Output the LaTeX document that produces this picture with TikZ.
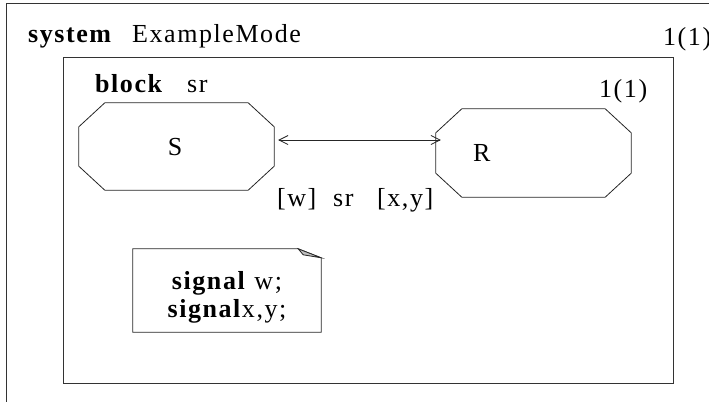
\documentclass[tikz,border=0pt]{standalone}
\usepackage{fontspec}
\setmainfont{Liberation Serif}[LetterSpace=6]
\usetikzlibrary{arrows.meta,calc}

% octagonal outline around a rectangular node: #1 name, #2 x chamfer, #3 y chamfer
\newcommand\chamferoutline[3]{%
  \draw[edge] ([xshift=#2]#1.north west) -- ([xshift=-#2]#1.north east)
    -- ([yshift=-#3]#1.north east) -- ([yshift=#3]#1.south east)
    -- ([xshift=-#2]#1.south east) -- ([xshift=#2]#1.south west)
    -- ([yshift=#3]#1.south west) -- ([yshift=-#3]#1.north west) -- cycle;}

\begin{document}
\begin{tikzpicture}[x=1pt,y=-1pt,
  frame/.style={draw=black!80,line width=0.9pt},
  edge/.style={draw=black!85,line width=0.8pt},
  txt/.style={inner sep=0pt,anchor=base west,font=\fontsize{26}{30}\selectfont},
  ctxt/.style={txt,anchor=base},
  agentbox/.style={inner sep=0pt,minimum width=195pt,font=\fontsize{26}{30}\selectfont},
  sig/.style={edge,{Straight Barb[length=9pt,width=9pt]}-{Straight Barb[length=9pt,width=9pt]}}
]
\useasboundingbox (0,0) rectangle (709,402);

% system frame (open at right and bottom)
\draw[frame] (709,3) -- (6,3) -- (6,402);
\node[txt] (syskw) at (28,42) {\textbf{system}};
\node[txt] (sysname) at (132,42) {ExampleMode};
\node[txt] (syspage) at (663,45) {1(1)};

% block frame
\draw[frame] (63,57) rectangle (673,383);
\node[txt] (blkkw) at (95,92) {\textbf{block}};
\node[txt] (blkname) at (187,92) {sr};
\node[txt] (blkpage) at (599,97) {1(1)};

% processes
\node[agentbox,minimum height=87pt] (S) at (176.5,146.5) {};
\chamferoutline{S}{26pt}{24pt}
\node[ctxt] (Slabel) at (175,155) {S};
\node[agentbox,minimum height=88pt] (R) at (533.5,153) {};
\chamferoutline{R}{26pt}{24pt}
\node[txt] (Rlabel) at (473,161) {R};

% signal route sr
\coordinate (srA) at ([shift={(4pt,6.5pt)}]S.east);
\draw[sig] (srA) -- ([xshift=5pt]R.west |- srA);
\node[txt] (sigw) at (277,206) {[w]};
\node[txt] (srname) at (333,206) {sr};
\node[txt] (sigxy) at (377,206) {[x,y]};

% text symbol with signal declarations
\node[inner sep=0pt,minimum width=188pt,minimum height=83pt] (note) at (227,290.5) {};
\draw[edge] (note.north west) -- ([xshift=-23pt]note.north east)
  -- ([yshift=-9pt]note.north east) -- (note.south east) -- (note.south west) -- cycle;
\draw[edge,fill=black!25] ([xshift=-23pt]note.north east) -- ([yshift=-9pt]note.north east)
  -- ([shift={(-18pt,-6pt)}]note.north east) -- cycle;
\node[ctxt] (decl1) at (227,289) {\textbf{signal} w;};
\node[ctxt] (decl2) at (227,317) {\textbf{signal}x,y;};
\end{tikzpicture}
\end{document}
